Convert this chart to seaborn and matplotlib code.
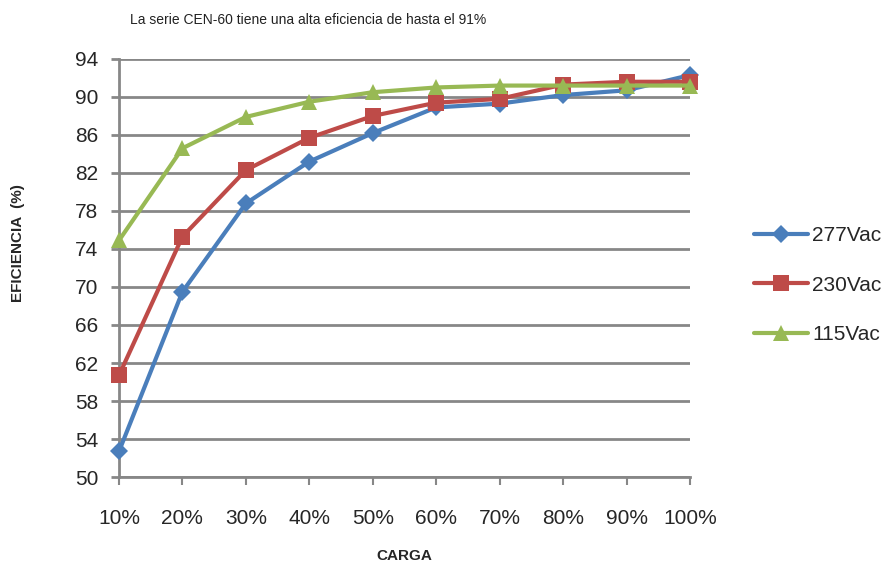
import pandas as pd
import matplotlib
matplotlib.use("Agg")
import matplotlib.pyplot as plt
import seaborn as sns

# datos
carga = ["10%", "20%", "30%", "40%", "50%", "60%", "70%", "80%", "90%", "100%"]
ef_277 = [52.7, 69.5, 78.8, 83.2, 86.2, 88.9, 89.3, 90.2, 90.7, 92.3]
ef_230 = [60.7, 75.3, 82.3, 85.7, 88.0, 89.4, 89.8, 91.3, 91.6, 91.6]
ef_115 = [74.9, 84.6, 87.9, 89.5, 90.5, 91.0, 91.2, 91.2, 91.2, 91.2]
series = ["277Vac", "230Vac", "115Vac"]
y_ticks = list(range(50, 95, 4))

df = pd.DataFrame({
    "carga": carga * 3,
    "pos": list(range(len(carga))) * 3,
    "ef": ef_277 + ef_230 + ef_115,
    "serie": [s for s in series for _ in carga],
})

sns.set_style("white")
plt.rcParams["font.family"] = ["Liberation Sans Narrow", "Liberation Sans", "DejaVu Sans"]

colors = {"277Vac": "#4A7EBB", "230Vac": "#BE4B48", "115Vac": "#98B954"}
markers = {"277Vac": "D", "230Vac": "s", "115Vac": "^"}
msizes = {"277Vac": 9, "230Vac": 12, "115Vac": 12}

fig = plt.figure(figsize=(8.92, 5.67), dpi=100)
ax = fig.add_axes([0.1334, 0.1587, 0.6401, 0.7373])

for s in series:
    sub = df[df["serie"] == s]
    sns.lineplot(data=sub, x="pos", y="ef", ax=ax, color=colors[s], lw=3,
                 marker=markers[s], markersize=msizes[s], markeredgewidth=0,
                 label=s, clip_on=False, zorder=3)

ax.set_xlim(0, 9)
ax.set_ylim(50, 94)
ax.set_yticks(y_ticks)
ax.set_xticks(range(len(carga)))
ax.set_xticklabels(carga)
ax.yaxis.grid(True, color="#878787", lw=2)
ax.xaxis.grid(False)
for side in ["top", "right"]:
    ax.spines[side].set_visible(False)
ax.spines["left"].set_color("#878787")
ax.spines["left"].set_linewidth(2)
ax.spines["bottom"].set_color("#878787")
ax.spines["bottom"].set_linewidth(2)
ax.tick_params(axis="y", length=6, width=2, color="#878787", pad=9, labelsize=15, left=True)
ax.tick_params(axis="x", length=6, width=1.5, color="#878787", pad=17, labelsize=15, bottom=True)

ax.set_xlabel("CARGA", fontsize=11, fontweight="bold", labelpad=15)
ax.set_ylabel("")
fig.text(0.02, 0.571, "EFICIENCIA  (%)", rotation=90, ha="center", va="center",
         fontsize=11, fontweight="bold")
fig.text(0.146, 0.965, "La serie CEN-60 tiene una alta eficiencia de hasta el 91%",
         fontsize=10, ha="left", va="center", color="#222222")

leg = ax.legend(loc="center left", bbox_to_anchor=(0.845, 0.497),
                bbox_transform=fig.transFigure, frameon=False, fontsize=15,
                handlelength=2.6, labelspacing=1.45, handletextpad=0.2,
                borderpad=0, borderaxespad=0)

fig.savefig("out.png", dpi=100)
